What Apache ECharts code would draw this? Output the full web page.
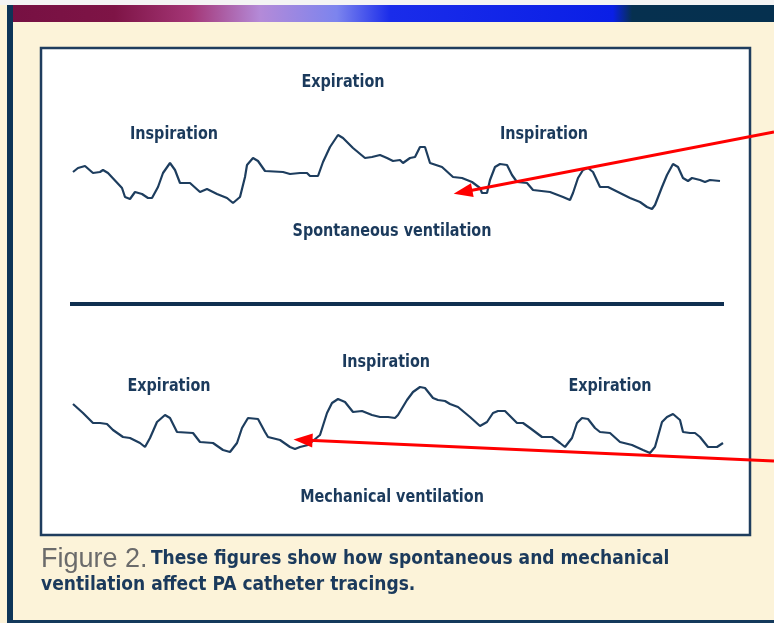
<!DOCTYPE html>
<html>
<head>
<meta charset="utf-8">
<script src="https://cdn.jsdelivr.net/npm/echarts@6/dist/echarts.min.js"></script>
<style>html,body{margin:0;padding:0;background:#fcf3d9}#c{width:774px;height:623px}</style>
</head>
<body>
<div id="c"></div>
<script>
// Spontaneous ventilation tracing (time units, pressure units)
const topTime = [3,8,15,23,30,33,38,52,55,60,65,72,78,82,88,93,100,105,110,120,130,137,147,157,163,170,175,177,183,188,195,213,220,230,237,240,248,253,260,268,273,283,295,302,310,317,323,330,333,340,345,350,355,360,372,383,392,402,410,412,417,420,425,430,437,442,447,457,463,480,493,500,503,508,513,518,523,530,538,550,560,570,577,582,585,592,597,603,608,613,618,622,630,635,640,650];
const topPressure = [28,32,34,27,28,30,27,12,3,1,8,6,2,2,13,27,37,30,17,17,8,11,6,2,-3,3,23,35,42,39,29,28,26,27,27,24,24,38,53,65,62,52,42,43,45,42,39,40,37,42,43,53,53,37,33,23,22,18,12,7,7,20,33,36,35,25,18,17,10,8,3,0,7,22,30,32,28,13,13,7,2,-2,-7,-9,-5,13,25,36,33,22,19,22,20,18,20,19];
// Mechanical ventilation tracing
const bottomTime = [3,13,23,30,37,43,53,60,70,75,80,87,95,100,107,123,130,143,153,160,167,172,178,188,195,198,210,220,225,230,238,250,257,262,268,275,283,292,302,310,318,325,328,337,343,350,355,363,368,375,380,388,400,410,417,423,428,435,442,447,453,460,472,482,490,495,502,507,512,518,525,530,540,550,562,573,580,585,592,597,603,610,613,620,625,630,638,647,653];
const bottomPressure = [56,47,37,37,36,30,23,22,17,13,22,38,45,42,28,27,18,17,10,8,17,32,42,41,28,23,20,13,11,13,15,25,47,57,61,58,48,49,45,43,43,42,45,60,68,73,72,62,60,59,56,53,43,34,38,47,49,49,42,37,37,32,23,23,17,13,22,37,42,41,32,28,27,18,15,10,7,13,38,43,46,40,28,27,27,23,13,13,17];
// Annotation arrows: [startTime, startPressure, tipTime, tipPressure]
const topArrow = [704, 68, 393, 8];
const bottomArrow = [704, -1, 233, 20];

const topLabels = [
  {text:'Expiration', x:343, y:82},
  {text:'Inspiration', x:174, y:134},
  {text:'Inspiration', x:544, y:134},
  {text:'Spontaneous ventilation', x:392, y:231}
];
const bottomLabels = [
  {text:'Inspiration', x:386, y:362},
  {text:'Expiration', x:169, y:386},
  {text:'Expiration', x:610, y:386},
  {text:'Mechanical ventilation', x:392, y:497}
];
const captionLead = 'Figure 2.';
const captionLine1 = 'These figures show how spontaneous and mechanical';
const captionLine2 = 'ventilation affect PA catheter tracings.';

const FONT = '"Liberation Sans Narrow","DejaVu Sans Condensed",sans-serif';
const NAVY = '#1b3a5c';
const TRACE = '#1d3d5e';

function zip(a,b){return a.map((v,i)=>[v,b[i]]);}

const chart = echarts.init(document.getElementById('c'), null, {renderer:'canvas'});

const labelEls = topLabels.concat(bottomLabels).map(l=>({
  type:'text', x:l.x, y:l.y, z:10, scaleY:1.15,
  style:{x:0, y:0, text:l.text, font:'bold 16px '+FONT, fill:NAVY, align:'center', verticalAlign:'middle'}
}));

function arrowLine(a){
  return {
    silent:true, symbol:['none','triangle'], symbolSize:[14,19],
    label:{show:false}, lineStyle:{color:'#ff0000', width:3, type:'solid'},
    emphasis:{disabled:true},
    data:[[{coord:[a[0],a[1]]},{coord:[a[2],a[3]]}]]
  };
}

chart.setOption({
  animation:false,
  backgroundColor:'#fcf3d9',
  grid:[
    {left:70, top:120, width:704, height:100},
    {left:70, top:370, width:704, height:100}
  ],
  xAxis:[
    {gridIndex:0, type:'value', min:0, max:704, show:false},
    {gridIndex:1, type:'value', min:0, max:704, show:false}
  ],
  yAxis:[
    {gridIndex:0, type:'value', min:-20, max:80, show:false},
    {gridIndex:1, type:'value', min:-10, max:90, show:false}
  ],
  graphic:[
    {type:'rect', z:-10, shape:{x:0,y:0,width:774,height:623}, style:{fill:'#fcf3d9'}},
    {type:'rect', z:-9, shape:{x:0,y:0,width:774,height:5}, style:{fill:'#f4f4f4'}},
    {type:'rect', z:-9, shape:{x:7,y:5,width:767,height:17}, style:{fill:{type:'linear',x:0,y:0,x2:1,y2:0,colorStops:[
      {offset:0,color:'#761042'},{offset:0.14,color:'#7e1446'},{offset:0.24,color:'#a43676'},
      {offset:0.33,color:'#b48ad8'},{offset:0.43,color:'#7c84ee'},{offset:0.5,color:'#1a2cea'},
      {offset:0.79,color:'#0a1fe6'},{offset:0.815,color:'#06304f'},{offset:1,color:'#05304f'}]}}},
    {type:'rect', z:-9, shape:{x:7,y:5,width:6,height:618}, style:{fill:'#0d3457'}},
    {type:'rect', z:-9, shape:{x:7,y:620,width:767,height:3}, style:{fill:'#143a5c'}},
    {type:'rect', z:-8, shape:{x:41,y:48,width:709,height:487}, style:{fill:'#ffffff', stroke:'#1f3d5e', lineWidth:2.5}},
    {type:'rect', z:-7, shape:{x:70,y:302,width:654,height:4}, style:{fill:'#0f2f50'}},
    ...labelEls,
    {type:'text', x:41, y:573, z:10, style:{
      text:'{a|'+captionLead+'} {b|'+captionLine1+'}', verticalAlign:'bottom', align:'left',
      rich:{a:{font:'27px "Liberation Sans",Arial,sans-serif', fill:'#6b6b6b'}, b:{font:'bold 19px '+FONT, fill:NAVY}}
    }},
    {type:'text', x:41, y:595, z:10, style:{text:captionLine2, font:'bold 19px '+FONT, fill:NAVY, verticalAlign:'bottom', align:'left'}}
  ],
  series:[
    {type:'line', xAxisIndex:0, yAxisIndex:0, data:zip(topTime,topPressure), showSymbol:false, symbol:'none',
     lineStyle:{color:TRACE, width:2.2}, silent:true, clip:false, markLine:arrowLine(topArrow)},
    {type:'line', xAxisIndex:1, yAxisIndex:1, data:zip(bottomTime,bottomPressure), showSymbol:false, symbol:'none',
     lineStyle:{color:TRACE, width:2.2}, silent:true, clip:false, markLine:arrowLine(bottomArrow)}
  ]
});
</script>
</body>
</html>
